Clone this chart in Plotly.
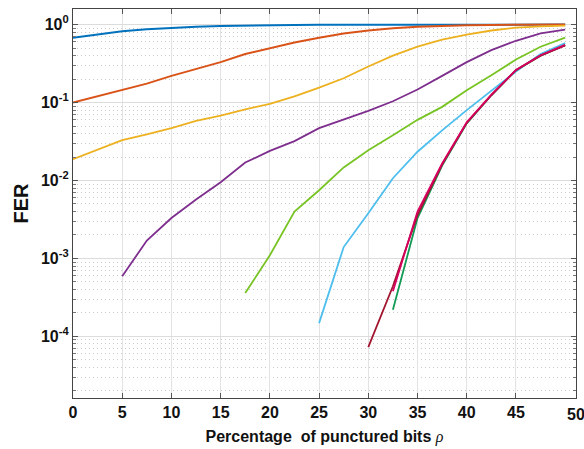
import plotly.graph_objects as go

# Puncturing rate (percent) sampled every 2.5 %
rho = [0, 2.5, 5, 7.5, 10, 12.5, 15, 17.5, 20, 22.5, 25, 27.5, 30, 32.5,
       35, 37.5, 40, 42.5, 45, 47.5, 50]

fer_blue = [0.68, 0.75, 0.82, 0.87, 0.91, 0.94, 0.96, 0.975, 0.985, 0.99, 0.993,
            0.995, 0.996, 0.997, 0.998, 0.998, 0.999, 0.999, 1.0, 1.0, 1.0]
fer_orange = [0.10, 0.12, 0.145, 0.175, 0.22, 0.27, 0.33, 0.42, 0.50, 0.59, 0.68,
              0.77, 0.84, 0.90, 0.94, 0.97, 0.98, 0.99, 0.995, 1.0, 1.0]
fer_yellow = [0.0188, 0.025, 0.033, 0.039, 0.047, 0.058, 0.068, 0.082, 0.096, 0.12,
              0.155, 0.205, 0.29, 0.40, 0.52, 0.64, 0.745, 0.84, 0.915, 0.95, 0.97]
fer_purple = [None, None, 5.9e-4, 1.7e-3, 3.3e-3, 5.7e-3, 9.5e-3, 0.017, 0.024, 0.032,
              0.047, 0.060, 0.078, 0.104, 0.147, 0.22, 0.33, 0.47, 0.62, 0.77, 0.86]
fer_green = [None] * 7 + [3.6e-4, 1.1e-3, 4.0e-3, 7.5e-3, 0.0147, 0.0245, 0.038,
                          0.06, 0.088, 0.144, 0.224, 0.356, 0.52, 0.68]
fer_cyan = [None] * 10 + [1.48e-4, 1.4e-3, 3.8e-3, 0.0107, 0.0234, 0.044, 0.08,
                          0.14, 0.25, 0.42, 0.58]
fer_darkred = [None] * 12 + [7.3e-5, 4.4e-4, 3.6e-3, 0.016, 0.055, 0.124, 0.26, 0.40, 0.54]
fer_teal = [None] * 13 + [2.2e-4, 3.3e-3, 0.0155, 0.054, 0.124, 0.26, 0.40, 0.545]
fer_pink = [None] * 13 + [3.8e-4, 4.0e-3, 0.0165, 0.056, 0.126, 0.262, 0.405, 0.55]

series = [
    (fer_blue, "#0072BD", 2.0),
    (fer_orange, "#D95319", 2.0),
    (fer_yellow, "#EDB120", 1.8),
    (fer_purple, "#7E2F8E", 1.8),
    (fer_green, "#78C424", 1.8),
    (fer_cyan, "#4DBEEE", 1.8),
    (fer_teal, "#109A55", 1.8),
    (fer_darkred, "#A2142F", 1.8),
    (fer_pink, "#D6005E", 1.8),
]

x_ticks = [0, 5, 10, 15, 20, 25, 30, 35, 40, 45]
y_ticks = [1, 1e-1, 1e-2, 1e-3, 1e-4]
y_tick_text = ["10<sup>0</sup>", "10<sup>-1</sup>", "10<sup>-2</sup>",
               "10<sup>-3</sup>", "10<sup>-4</sup>"]
y_minor = [k * 10.0 ** e for e in range(-5, 1) for k in range(2, 10)]

fig = go.Figure()
for y, color, width in series:
    xs = [r for r, v in zip(rho, y) if v is not None]
    ys = [v for v in y if v is not None]
    fig.add_trace(go.Scatter(x=xs, y=ys, mode="lines",
                             line=dict(color=color, width=width),
                             showlegend=False))

tick_font = dict(family="Liberation Sans, Arial, sans-serif", size=16,
                 color="#111111", weight="bold")

fig.update_layout(
    width=584, height=449,
    margin=dict(l=73, r=8, t=9, b=51),
    paper_bgcolor="white", plot_bgcolor="white",
    xaxis=dict(
        range=[0, 51.1],
        tickvals=x_ticks,
        ticks="inside", ticklen=5, tickcolor="#555555",
        showline=True, linecolor="#444444", linewidth=1.2, mirror="ticks",
        showgrid=True, gridcolor="#e3e3e3", gridwidth=1,
        zeroline=False,
        tickfont=tick_font,
        title=dict(
            text="<b>Percentage  of punctured bits</b> "
                 "<span style='font-family:Liberation Serif'><i>ρ</i></span>",
            font=dict(family="Liberation Sans, Arial, sans-serif", size=16,
                      color="#111111"),
            standoff=10,
        ),
    ),
    yaxis=dict(
        type="log",
        range=[-4.79, 0.20],
        tickvals=y_ticks, ticktext=y_tick_text,
        ticks="inside", ticklen=5, tickcolor="#555555",
        showline=True, linecolor="#444444", linewidth=1.2, mirror="ticks",
        showgrid=True, gridcolor="#dcdcdc", gridwidth=1,
        zeroline=False,
        tickfont=tick_font,
        minor=dict(tickvals=y_minor, ticks="inside", ticklen=3,
                   tickcolor="#777777", showgrid=True,
                   gridcolor="#cccccc", griddash="1px,3px", gridwidth=1),
        title=dict(text="<b>FER</b>",
                   font=dict(family="Liberation Sans, Arial, sans-serif",
                             size=20, color="#111111"),
                   standoff=6),
    ),
)

# Right-hand end label of the rate axis
fig.add_annotation(xref="paper", yref="paper", x=1.0, y=0, yshift=-6,
                   xanchor="center", text="50", showarrow=False,
                   yanchor="top", font=tick_font)

fig.write_html("out.html")
